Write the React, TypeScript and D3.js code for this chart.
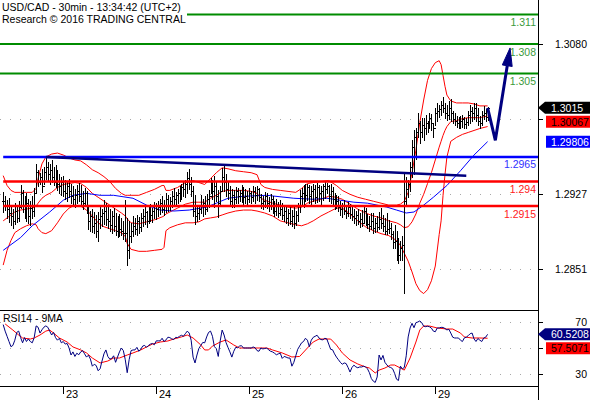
import React from "react";
import * as d3 from "d3";

// ---------------- data ----------------
const titleLine = "USD/CAD - 30min - 13:34:42 (UTC+2)";
const creditLine = "Research \u00a9 2016 TRADING CENTRAL";
const rsiTitle = "RSI14 - 9MA";

const dayLabels = ["23", "24", "25", "26", "29"];
const dayStartBar = [31, 79, 127, 175, 223];

const priceTicks = [1.2851, 1.2927, 1.3004, 1.308];
const priceTickLabels = ["1.2851", "1.2927", "", "1.3080"];
const rsiTicks = [30, 50, 70];
const rsiTickLabels = ["30", "", "70"];

const levelValues = [1.311, 1.308, 1.305, 1.2965, 1.294, 1.2915];
const levelLabels = ["1.311", "1.308", "1.305", "1.2965", "1.294", "1.2915"];
const levelKinds = ["target", "target", "target", "pivot", "support", "support"];

const highs = [
  1.2929, 1.2925, 1.2921, 1.2923, 1.2916, 1.2912, 1.2918, 1.2915, 1.292, 1.2936,
  1.2931, 1.2925, 1.2928, 1.2922, 1.292, 1.2925, 1.2933, 1.2958, 1.2952, 1.2949,
  1.2953, 1.2955, 1.2965, 1.296, 1.2958, 1.2962, 1.2955, 1.2957, 1.2952, 1.2948,
  1.2945, 1.2946, 1.2942, 1.294, 1.2943, 1.2938, 1.2935, 1.2932, 1.2936, 1.2939,
  1.2937, 1.293, 1.2933, 1.293, 1.2914, 1.291, 1.2912, 1.2909, 1.2906, 1.2909,
  1.2914, 1.2912, 1.2921, 1.2918, 1.2914, 1.2912, 1.291, 1.2913, 1.2908, 1.2905,
  1.2907, 1.2903, 1.29, 1.2921, 1.2903, 1.29, 1.2898, 1.2905, 1.2903, 1.2906,
  1.2904, 1.2908, 1.2912, 1.2914, 1.291, 1.2915, 1.2917, 1.2913, 1.2919, 1.2918,
  1.292, 1.2922, 1.2925, 1.2921, 1.2928, 1.2926, 1.2924, 1.293, 1.2933, 1.2929,
  1.2932, 1.2935, 1.2938, 1.294, 1.2942, 1.295, 1.2953, 1.2945, 1.2935, 1.2926,
  1.2914, 1.2916, 1.2926, 1.2922, 1.2925, 1.2927, 1.2931, 1.2944, 1.2942, 1.2946,
  1.294, 1.2931, 1.2935, 1.2954, 1.2957, 1.2948, 1.294, 1.2935, 1.2932, 1.2931,
  1.2934, 1.2933, 1.2931, 1.2936, 1.2934, 1.2932, 1.293, 1.2933, 1.293, 1.2935,
  1.2934, 1.2935, 1.2933, 1.2927, 1.2925, 1.2929, 1.2928, 1.2924, 1.2927, 1.2925,
  1.292, 1.2922, 1.2919, 1.2921, 1.2918, 1.2916, 1.2915, 1.2912, 1.2914, 1.2911,
  1.2914, 1.291, 1.2918, 1.2931, 1.2933, 1.2936, 1.2938, 1.2938, 1.2937, 1.2935,
  1.2938, 1.2936, 1.2939, 1.2937, 1.2935, 1.2938, 1.2941, 1.2939, 1.2937, 1.2938,
  1.2934, 1.2928, 1.2926, 1.2925, 1.292, 1.2918, 1.2921, 1.2916, 1.2919, 1.2917,
  1.2914, 1.2912, 1.291, 1.2912, 1.2908, 1.2911, 1.2916, 1.2913, 1.2907, 1.2905,
  1.2908, 1.2908, 1.2903, 1.2905, 1.2909, 1.2913, 1.2906, 1.2903, 1.2908, 1.2901,
  1.2898, 1.289, 1.2896, 1.289, 1.2883, 1.288, 1.2885, 1.2949, 1.2945, 1.2942,
  1.296, 1.2982, 1.2992, 1.2994, 1.301, 1.3002, 1.3005, 1.3005, 1.3008, 1.3002,
  1.301, 1.3009, 1.3, 1.3015, 1.302, 1.3018, 1.3022, 1.3026, 1.302, 1.3018,
  1.3022, 1.3024, 1.3012, 1.301, 1.3007, 1.3006, 1.3007, 1.3008, 1.3006, 1.3005,
  1.3012, 1.3018, 1.3016, 1.302, 1.302, 1.3015, 1.3007, 1.3012, 1.3017, 1.3014,
  1.3016,
];
const lows = [
  1.2909, 1.2911, 1.2903, 1.2899, 1.2896, 1.2893, 1.2897, 1.2899, 1.29, 1.2913,
  1.2909, 1.2903, 1.29, 1.2898, 1.2896, 1.2903, 1.2905, 1.2929, 1.2935, 1.2938,
  1.2929, 1.2938, 1.2943, 1.2942, 1.2938, 1.294, 1.2936, 1.2934, 1.2931, 1.2928,
  1.2926, 1.2925, 1.2922, 1.292, 1.2924, 1.2918, 1.2915, 1.2914, 1.2918, 1.292,
  1.2916, 1.2912, 1.2915, 1.2908, 1.2892, 1.289, 1.2889, 1.2888, 1.2884, 1.288,
  1.2893, 1.2895, 1.2897, 1.2896, 1.2893, 1.289, 1.2888, 1.289, 1.2886, 1.2884,
  1.2885, 1.2886, 1.2882, 1.288, 1.2855, 1.2862, 1.2878, 1.2885, 1.2887, 1.2886,
  1.2888, 1.289, 1.2895, 1.2897, 1.2894, 1.2898, 1.29, 1.2899, 1.2903, 1.2902,
  1.2905, 1.2907, 1.2909, 1.2906, 1.2909, 1.291, 1.2911, 1.2914, 1.2916, 1.2915,
  1.2918, 1.292, 1.2922, 1.2925, 1.2924, 1.2928, 1.2932, 1.2925, 1.2905, 1.2897,
  1.29, 1.2902, 1.2908, 1.2905, 1.2907, 1.291, 1.2914, 1.2928, 1.2922, 1.2914,
  1.292, 1.2904, 1.2915, 1.2931, 1.293, 1.2925, 1.2922, 1.2915, 1.2914, 1.2914,
  1.2918, 1.2918, 1.292, 1.2919, 1.2917, 1.2918, 1.2917, 1.2919, 1.2918, 1.292,
  1.2918, 1.2921, 1.292, 1.2913, 1.2912, 1.2914, 1.2913, 1.291, 1.2912, 1.2908,
  1.2905, 1.2906, 1.2904, 1.2906, 1.2902, 1.29, 1.2898, 1.2896, 1.2897, 1.2895,
  1.2893, 1.2896, 1.29, 1.2909, 1.2915, 1.2914, 1.292, 1.2921, 1.2918, 1.2916,
  1.292, 1.2918, 1.2919, 1.292, 1.2917, 1.2921, 1.2923, 1.2928, 1.292, 1.2918,
  1.2916, 1.2912, 1.2913, 1.291, 1.2906, 1.2904, 1.2907, 1.2903, 1.2905, 1.2903,
  1.2901, 1.2898, 1.2896, 1.2897, 1.2894, 1.2895, 1.2898, 1.2896, 1.2893, 1.289,
  1.2892, 1.2888, 1.2889, 1.289, 1.2892, 1.2893, 1.289, 1.2887, 1.2887, 1.2888,
  1.2882, 1.2872, 1.2872, 1.286, 1.2857, 1.286, 1.286, 1.2827, 1.2915, 1.2924,
  1.293, 1.2945, 1.2948, 1.2963, 1.2985, 1.2979, 1.2985, 1.2982, 1.2988, 1.299,
  1.2995, 1.2992, 1.2985, 1.2998, 1.3002, 1.3006, 1.3008, 1.3011, 1.3005, 1.3003,
  1.3004, 1.3002, 1.3, 1.2998, 1.2996, 1.2994, 1.2994, 1.2996, 1.2995, 1.2995,
  1.2998, 1.3, 1.3002, 1.3004, 1.3002, 1.2998, 1.2994, 1.2998, 1.3004, 1.3002,
  1.3003,
];
const closes = [
  1.292, 1.2915, 1.2912, 1.2908, 1.2905, 1.29, 1.291, 1.2903, 1.2914, 1.2928,
  1.2915, 1.291, 1.2918, 1.2905, 1.2913, 1.291, 1.2928, 1.295, 1.294, 1.2945,
  1.2935, 1.295, 1.2955, 1.2948, 1.2952, 1.2945, 1.294, 1.295, 1.2938, 1.2935,
  1.294, 1.293, 1.2928, 1.2935, 1.293, 1.2925, 1.2922, 1.2926, 1.293, 1.2925,
  1.292, 1.2918, 1.2928, 1.2912, 1.29, 1.2905, 1.2895, 1.2898, 1.289, 1.2902,
  1.2905, 1.2908, 1.291, 1.2902, 1.29, 1.2896, 1.2905, 1.2895, 1.289, 1.2898,
  1.2892, 1.289, 1.2888, 1.2888, 1.287, 1.2885, 1.289, 1.2895, 1.2892, 1.29,
  1.2894, 1.2903, 1.2905, 1.2909, 1.29, 1.291, 1.2906, 1.291, 1.2915, 1.2912,
  1.2914, 1.2918, 1.2912, 1.2916, 1.2922, 1.2915, 1.292, 1.2925, 1.2922, 1.2926,
  1.2928, 1.293, 1.2934, 1.2932, 1.2938, 1.2944, 1.2938, 1.293, 1.291, 1.2905,
  1.2908, 1.2912, 1.2915, 1.2918, 1.2912, 1.2922, 1.2925, 1.294, 1.293, 1.2935,
  1.2925, 1.2918, 1.293, 1.2945, 1.294, 1.2932, 1.2928, 1.292, 1.2926, 1.2922,
  1.293, 1.2925, 1.2928, 1.2932, 1.2924, 1.2925, 1.2922, 1.2928, 1.2924, 1.293,
  1.2926, 1.2932, 1.2924, 1.2918, 1.292, 1.2925, 1.2918, 1.2915, 1.2922, 1.2912,
  1.291, 1.2916, 1.2908, 1.2912, 1.2906, 1.291, 1.2903, 1.2908, 1.29, 1.2905,
  1.2898, 1.2906, 1.2915, 1.2925, 1.2928, 1.293, 1.2926, 1.2934, 1.2925, 1.293,
  1.2932, 1.2924, 1.2934, 1.2928, 1.293, 1.2935, 1.2932, 1.2935, 1.2925, 1.293,
  1.2922, 1.2918, 1.292, 1.2914, 1.2912, 1.2915, 1.291, 1.2908, 1.2914, 1.2907,
  1.2905, 1.2903, 1.2906, 1.29, 1.2902, 1.2898, 1.291, 1.29, 1.2897, 1.2895,
  1.29, 1.2893, 1.2898, 1.2894, 1.2902, 1.2898, 1.2895, 1.289, 1.2892, 1.2893,
  1.2887, 1.2878, 1.288, 1.287, 1.2865, 1.2872, 1.2875, 1.292, 1.2932, 1.2938,
  1.2955, 1.2975, 1.2985, 1.299, 1.3, 1.299, 1.2998, 1.2995, 1.3, 1.2996,
  1.3005, 1.3, 1.2995, 1.301, 1.3012, 1.3014, 1.3018, 1.3015, 1.301, 1.3008,
  1.3015, 1.301, 1.3004, 1.3002, 1.3, 1.3, 1.3002, 1.3004, 1.2999, 1.3001,
  1.3008, 1.3012, 1.301, 1.3015, 1.3008, 1.3002, 1.3, 1.3008, 1.301, 1.3006,
  1.3015,
];

// Bollinger bands (at these bars)
const bbBars = [
  0, 2, 4, 6, 9, 12, 15, 17, 18, 20,
  22, 25, 28, 31, 34, 37, 40, 43, 46, 49,
  52, 55, 58, 61, 63, 64, 66, 70, 74, 78,
  82, 83, 84, 86, 90, 94, 98, 101, 104, 107,
  110, 113, 116, 120, 124, 128, 131, 133, 135, 139,
  143, 147, 151, 154, 157, 160, 164, 168, 172, 175,
  179, 183, 187, 191, 195, 199, 203, 205, 207, 209,
  211, 213, 215, 217, 219, 221, 223, 225, 226, 227,
  228, 229, 231, 234, 237, 240, 243, 246, 250,
];
const bbUpper = [
  1.2946, 1.2936, 1.2931, 1.2929, 1.2929, 1.2929, 1.2929, 1.2933, 1.2943, 1.2958,
  1.2965, 1.2968, 1.2969, 1.2967, 1.2964, 1.2962, 1.2961, 1.2957, 1.2952, 1.2949,
  1.2945, 1.294, 1.2933, 1.2928, 1.2926, 1.2926, 1.2926, 1.2926, 1.2929, 1.2932,
  1.2936, 1.2936, 1.2931, 1.2931, 1.2934, 1.2939, 1.2941, 1.2939, 1.2937, 1.2943,
  1.2949, 1.2954, 1.2953, 1.2951, 1.295, 1.2949, 1.2947, 1.2937, 1.2934, 1.2932,
  1.2931, 1.293, 1.2929, 1.2933, 1.2938, 1.2939, 1.294, 1.2941, 1.2936, 1.2931,
  1.2927, 1.2924, 1.2922, 1.292, 1.2918, 1.2916, 1.2916, 1.2917, 1.292, 1.2929,
  1.2949, 1.2972, 1.3, 1.3023, 1.3043, 1.3055, 1.3061, 1.3063, 1.3059, 1.3048,
  1.3037, 1.3028, 1.3022, 1.302, 1.302, 1.302, 1.3019, 1.3017, 1.3017,
];
const bbMiddle = [
  1.29, 1.2903, 1.2906, 1.2909, 1.2911, 1.2912, 1.2913, 1.2915, 1.2918, 1.2923,
  1.2926, 1.2929, 1.2934, 1.2937, 1.2938, 1.2939, 1.2938, 1.2934, 1.2928, 1.2924,
  1.292, 1.2916, 1.2912, 1.2908, 1.2905, 1.2902, 1.2898, 1.2897, 1.2899, 1.2901,
  1.2904, 1.2905, 1.2907, 1.2909, 1.2913, 1.2917, 1.2919, 1.2919, 1.2919, 1.2923,
  1.2926, 1.293, 1.2931, 1.2931, 1.2931, 1.293, 1.2928, 1.2923, 1.2921, 1.2918,
  1.2916, 1.2914, 1.2913, 1.2914, 1.2918, 1.292, 1.2922, 1.2925, 1.2924, 1.2922,
  1.2917, 1.2912, 1.2908, 1.2905, 1.2903, 1.29, 1.2898, 1.2896, 1.2893, 1.2894,
  1.2899, 1.2907, 1.2918, 1.2927, 1.2938, 1.2949, 1.2962, 1.2975, 1.2981, 1.2987,
  1.2992, 1.2996, 1.3001, 1.3002, 1.3004, 1.3005, 1.3005, 1.3005, 1.30067,
];
const bbLower = [
  1.2855, 1.287, 1.288, 1.2888, 1.2892, 1.2895, 1.2897, 1.2896, 1.2892, 1.2888,
  1.2887, 1.289, 1.2898, 1.2907, 1.2913, 1.2916, 1.2915, 1.2911, 1.2905, 1.2898,
  1.2894, 1.2892, 1.289, 1.2888, 1.2884, 1.2877, 1.2871, 1.2869, 1.2869, 1.287,
  1.2871, 1.2873, 1.289, 1.2893, 1.2896, 1.2898, 1.2898, 1.2899, 1.2902, 1.2903,
  1.2904, 1.2906, 1.2908, 1.291, 1.2911, 1.2911, 1.291, 1.2909, 1.2908, 1.2905,
  1.29, 1.2898, 1.2896, 1.2895, 1.2897, 1.29, 1.2905, 1.2909, 1.2913, 1.2913,
  1.2907, 1.29, 1.2894, 1.289, 1.2887, 1.2885, 1.288, 1.2875, 1.2867, 1.2859,
  1.2848, 1.2836, 1.2829, 1.2826, 1.283, 1.2839, 1.2854, 1.2886, 1.29, 1.2926,
  1.2947, 1.2965, 1.2981, 1.2985, 1.2988, 1.299, 1.2992, 1.2994, 1.2996,
];

// long moving average (blue)
const maBars = [0, 9, 15, 24, 31, 36, 43, 50, 57, 67, 74, 81, 88, 96, 102, 105, 110, 116, 124, 136, 150, 160, 167, 174, 181, 188, 198, 203, 208, 212, 217, 222, 229, 236, 243, 250];
const maValues = [
  1.287, 1.2883, 1.2895, 1.2909, 1.2921, 1.2926, 1.2928, 1.2926, 1.2926, 1.2923,
  1.2916, 1.2911, 1.291, 1.2911, 1.2913, 1.2914, 1.2918, 1.2923, 1.2925, 1.2926,
  1.2923, 1.2922, 1.2923, 1.2921, 1.2919, 1.2918, 1.2914, 1.2911, 1.2908, 1.2909,
  1.2916, 1.2924, 1.2936, 1.2951, 1.2967, 1.29806,
];

// hand-drawn annotations
const trendBars = [22, 239];
const trendValues = [1.2965, 1.2946];
const forecastBars = [250, 254, 261.6];
const forecastValues = [1.3015, 1.2982, 1.3076];

// RSI(14), one value per bar
const rsiValues = [
  68, 63, 59, 55, 51, 52, 56, 62, 63, 58,
  54, 58, 55, 57, 55, 54, 58, 67, 66, 61.5,
  64, 66, 67, 66, 63, 60, 62, 58, 56, 57.5,
  54, 55, 53, 53.5, 50, 44.6, 47, 43.5, 46, 44.8,
  47, 48, 45.5, 43, 44.5, 41.5, 36, 37.5, 36.5, 32.5,
  34, 40, 45.5, 48.5, 43.5, 41.5, 42, 44, 39, 43,
  47, 50, 48, 41, 31, 41, 48, 48.5, 48.5, 50.5,
  47.5, 49, 51.5, 52, 50.5, 52, 53, 53.5, 52.5, 55.5,
  55.5, 55.5, 57.5, 55, 56.2, 58.3, 58, 57, 56.5, 58.2,
  58, 59, 59.8, 59, 61, 63, 61.5, 56, 43, 38.5,
  44.6, 49.7, 52, 54.3, 54, 58.5, 62, 63, 59, 51,
  49.5, 43.5, 55.5, 63.8, 60, 54.2, 50.5, 47, 43, 47.5,
  50.5, 50.2, 51.5, 51.8, 50, 50, 50, 50, 50, 50.8,
  50.2, 48, 47.5, 50, 49.3, 49.6, 50, 48.5, 47.5, 47,
  46, 44.8, 45.5, 46, 42, 43.5, 43, 42.3, 42.3, 36,
  39, 44, 49, 51.5, 54, 55, 57.5, 56, 51, 56,
  58.2, 59, 59.8, 57.7, 56.5, 56.3, 57.5, 57, 53, 49,
  48.6, 45.5, 43, 41, 39, 37.5, 38.5, 38, 35, 31.5,
  35, 36.8, 35.5, 34.8, 35.4, 35.4, 36, 35.5, 34, 31,
  26.5, 24.5, 23.5, 27.7, 44.6, 40.8, 44.3, 39, 37, 35.5,
  35, 34, 30.5, 26, 25, 36, 34, 35, 44, 58.5,
  65.4, 69, 65.6, 69.5, 70, 70.8, 69.5, 66.8, 66.4, 66.8,
  66.3, 65.3, 63, 62.5, 65.4, 65.4, 65.9, 65.8, 65, 63.9,
  64.4, 61.5, 58.3, 57.7, 57.7, 57.7, 56, 55, 57.8, 58.3,
  59.5, 61, 61.5, 57, 55, 57.3, 56, 55, 57.7, 58.3,
  60.5208,
];
// 9-period average of RSI (read at these bars)
const rsiMaBars = [1, 5, 8, 10, 14, 16, 19, 22, 24, 26, 29, 33, 36, 40, 43, 46, 50, 54, 57, 60, 64, 67, 71, 74, 77, 81, 85, 88, 92, 95, 98, 102, 104, 106, 108, 112, 115, 119, 122, 129, 136, 139, 144, 149, 153, 157, 160, 163, 169, 172, 175, 179, 183, 187, 189, 192, 194, 197, 200, 202, 205, 207, 210, 213, 215, 217, 220, 224, 229, 232, 236, 238, 242, 246, 250];
const rsiMaValues = [
  68.5, 63.8, 60, 57.7, 56.9, 57.7, 60, 63, 63.8, 61.5,
  57.7, 54.6, 50.8, 48.5, 46.2, 42.3, 38.5, 40, 42.3, 42.3,
  44.6, 46.2, 48.5, 50.8, 53, 54.6, 55.4, 56.9, 58.5, 60,
  57.7, 52.3, 48.5, 48.5, 51.5, 54.6, 56.2, 52.3, 50, 50,
  50, 48.5, 46.2, 43.1, 43.5, 50, 54.6, 56.9, 56.9, 52.3,
  46.2, 40.8, 37.7, 35.4, 34.6, 30.8, 33, 34.6, 36.9, 36.9,
  34.6, 33, 42.3, 54.6, 63.8, 66.9, 66.9, 65.4, 64.6, 64.6,
  61.5, 58.5, 57.7, 57.7, 57.5071,
];

// ---------------- styles / layout ----------------
const FONT = "'Liberation Sans', Arial, Helvetica, sans-serif";
const W = 590;
const H = 400;
const AXIS_X = 538;
const RSI_TOP = 310;
const RSI_BOTTOM = 386;
const LEVEL_STYLE: Record<string, { stroke: string; width: number; text: string }> = {
  target: { stroke: "#008c00", width: 2, text: "#3a9a3a" },
  pivot: { stroke: "#0000ff", width: 2.5, text: "#3030ff" },
  support: { stroke: "#ff0000", width: 2.5, text: "#ff2020" },
};
const NAVY = "#000080";

const x = d3.scaleLinear().domain([0, 250]).range([3.2, 487.6]);
const y = d3.scaleLinear().domain([1.2851, 1.308]).range([269, 44]);
const yr = d3.scaleLinear().domain([30, 70]).range([374, 322]);

function seriesPath(bars: number[], vals: number[], sc: (v: number) => number) {
  return (
    d3
      .line<number>()
      .x((_, k) => x(bars[k]))
      .y((v) => sc(v))(vals) || ""
  );
}

function layoutTags(tags: { v: number; sc: (v: number) => number }[], gap: number) {
  const out: number[] = [];
  let prev = -Infinity;
  tags.forEach((t) => {
    const c = Math.max(t.sc(t.v), prev + gap);
    out.push(c);
    prev = c;
  });
  return out;
}

export default function App() {
  // OHLC bars
  const bp = d3.path();
  closes.forEach((c, i) => {
    const px = Math.round(x(i)) + 0.5;
    const o = i > 0 ? closes[i - 1] : c;
    bp.moveTo(px, Math.round(y(highs[i])));
    bp.lineTo(px, Math.round(y(lows[i])) + 1);
    const yo = Math.round(y(o)) + 0.5;
    const yc = Math.round(y(c)) + 0.5;
    bp.moveTo(px - 1.5, yo);
    bp.lineTo(px, yo);
    bp.moveTo(px, yc);
    bp.lineTo(px + 1.5, yc);
  });

  const rsiBars = rsiValues.map((_, i) => i);

  // forecast arrow
  const fp = forecastBars.map((b, k) => [x(b), y(forecastValues[k])] as [number, number]);
  const tip = fp[fp.length - 1];
  const prevPt = fp[fp.length - 2];
  const dx = tip[0] - prevPt[0];
  const dy = tip[1] - prevPt[1];
  const len = Math.hypot(dx, dy);
  const ux = dx / len;
  const uy = dy / len;
  const headLen = 18;
  const headHalf = 5;
  const base: [number, number] = [tip[0] - ux * headLen, tip[1] - uy * headLen];
  const shaft = [...fp.slice(0, -1), base];
  const headPts = [
    tip,
    [base[0] - uy * headHalf, base[1] + ux * headHalf],
    [base[0] + uy * headHalf, base[1] - ux * headHalf],
  ];

  const lastIdx = closes.length - 1;
  const priceTagDefs = [
    { v: closes[lastIdx], text: String(closes[lastIdx]), fill: "#000000", color: "#ffffff", pointer: true },
    { v: bbMiddle[bbMiddle.length - 1], text: String(bbMiddle[bbMiddle.length - 1]), fill: "#ff0000", color: "#000000", pointer: false },
    { v: maValues[maValues.length - 1], text: String(maValues[maValues.length - 1]), fill: "#0000ff", color: "#ffffff", pointer: false },
  ].sort((a, b) => y(a.v) - y(b.v));
  const priceTagY = layoutTags(priceTagDefs.map((t) => ({ v: t.v, sc: y })), 14);

  const rsiTagDefs = [
    { v: rsiValues[rsiValues.length - 1], text: String(rsiValues[rsiValues.length - 1]), fill: NAVY, color: "#ffffff", pointer: true },
    { v: rsiMaValues[rsiMaValues.length - 1], text: String(rsiMaValues[rsiMaValues.length - 1]), fill: "#ff0000", color: "#000000", pointer: false },
  ].sort((a, b) => yr(a.v) - yr(b.v));
  const rsiTagY = layoutTags(rsiTagDefs.map((t) => ({ v: t.v, sc: yr })), 14);

  const tag = (t: any, cy: number, key: string) => {
    const h = 12;
    const shape = t.pointer
      ? `M${AXIS_X},${cy} L${AXIS_X + 7},${cy - h / 2} L${W},${cy - h / 2} L${W},${cy + h / 2} L${AXIS_X + 7},${cy + h / 2} Z`
      : `M${AXIS_X + 8},${cy - h / 2} L${W},${cy - h / 2} L${W},${cy + h / 2} L${AXIS_X + 8},${cy + h / 2} Z`;
    return (
      <g key={key}>
        <path d={shape} fill={t.fill} />
        <text x={551} y={cy + 4} fill={t.color} fontSize={10.5}>
          {t.text}
        </text>
      </g>
    );
  };

  return (
    <svg
      width={W}
      height={H}
      style={{ position: "absolute", left: 0, top: 0, background: "#ffffff" }}
      fontFamily={FONT}
    >
      <rect x={0} y={0} width={W} height={H} fill="#ffffff" />

      {/* grid */}
      {priceTicks.map((t) => (
        <line key={"g" + t} x1={0} x2={AXIS_X - 1} y1={Math.round(y(t)) + 0.5} y2={Math.round(y(t)) + 0.5} stroke="#a8a8a8" strokeDasharray="1,9" />
      ))}
      {rsiTicks.map((t) => (
        <line key={"rg" + t} x1={0} x2={AXIS_X - 1} y1={Math.round(yr(t)) + 0.5} y2={Math.round(yr(t)) + 0.5} stroke="#a8a8a8" strokeDasharray="1,9" />
      ))}

      {/* bollinger bands + long MA */}
      <path d={seriesPath(bbBars, bbUpper, y)} fill="none" stroke="#ff0000" strokeWidth={1} />
      <path d={seriesPath(bbBars, bbMiddle, y)} fill="none" stroke="#ff0000" strokeWidth={1} />
      <path d={seriesPath(bbBars, bbLower, y)} fill="none" stroke="#ff0000" strokeWidth={1} />
      <path d={seriesPath(maBars, maValues, y)} fill="none" stroke="#0000ff" strokeWidth={1} />

      {/* bars */}
      <path d={bp.toString()} fill="none" stroke="#000000" strokeWidth={1} shapeRendering="crispEdges" />

      {/* levels */}
      {levelValues.map((v, k) => {
        const st = LEVEL_STYLE[levelKinds[k]];
        const ly = y(v);
        const x0 = levelKinds[k] === "target" ? 0 : x(0);
        return (
          <g key={"lv" + k}>
            <line x1={x0} x2={AXIS_X} y1={ly} y2={ly} stroke={st.stroke} strokeWidth={st.width} />
            <text x={536} y={ly + 11.5} textAnchor="end" fill={st.text} fontSize={10.5}>
              {levelLabels[k]}
            </text>
          </g>
        );
      })}

      {/* trend line */}
      <path d={seriesPath(trendBars, trendValues, y)} fill="none" stroke={NAVY} strokeWidth={2.5} />

      {/* forecast arrow */}
      <path d={d3.line()(shaft as [number, number][]) || ""} fill="none" stroke={NAVY} strokeWidth={3} strokeLinejoin="miter" />
      <path d={d3.line()(headPts as [number, number][]) + "Z"} fill={NAVY} stroke={NAVY} strokeWidth={1} />

      {/* header */}
      <rect x={0} y={0} width={187} height={27} fill="#ffffff" />
      <text x={2} y={10.5} fontSize={10.5} fill="#000000">
        {titleLine}
      </text>
      <text x={2} y={22.5} fontSize={10.5} fill="#000000">
        {creditLine}
      </text>

      {/* RSI panel */}
      <line x1={0} x2={AXIS_X} y1={RSI_TOP + 0.5} y2={RSI_TOP + 0.5} stroke="#000" />
      <line x1={0} x2={AXIS_X} y1={RSI_BOTTOM + 0.5} y2={RSI_BOTTOM + 0.5} stroke="#000" />
      <path d={seriesPath(rsiMaBars, rsiMaValues, yr)} fill="none" stroke="#ff0000" strokeWidth={1} />
      <path d={seriesPath(rsiBars, rsiValues, yr)} fill="none" stroke={NAVY} strokeWidth={1} />
      <text x={3} y={322} fontSize={10.5} fill="#000">
        {rsiTitle}
      </text>

      {/* right axis */}
      <line x1={AXIS_X + 0.5} x2={AXIS_X + 0.5} y1={0} y2={H} stroke="#000" />
      {priceTicks.map((t, k) => (
        <g key={"pt" + k}>
          <line x1={AXIS_X} x2={AXIS_X + 5} y1={Math.round(y(t)) + 0.5} y2={Math.round(y(t)) + 0.5} stroke="#000" />
          <text x={587} y={y(t) + 4} textAnchor="end" fontSize={10.5} fill="#000">
            {priceTickLabels[k]}
          </text>
        </g>
      ))}
      {rsiTicks.map((t, k) => (
        <g key={"rt" + k}>
          <line x1={AXIS_X} x2={AXIS_X + 5} y1={Math.round(yr(t)) + 0.5} y2={Math.round(yr(t)) + 0.5} stroke="#000" />
          <text x={587} y={yr(t) + 4} textAnchor="end" fontSize={10.5} fill="#000">
            {rsiTickLabels[k]}
          </text>
        </g>
      ))}
      {priceTagDefs.map((t, k) => tag(t, priceTagY[k], "ptag" + k))}
      {rsiTagDefs.map((t, k) => tag(t, rsiTagY[k], "rtag" + k))}

      {/* date axis */}
      {dayStartBar.map((b, k) => (
        <g key={"d" + k}>
          <line x1={Math.round(x(b)) + 0.5} x2={Math.round(x(b)) + 0.5} y1={RSI_BOTTOM} y2={RSI_BOTTOM + 8} stroke="#000" />
          <text x={Math.round(x(b)) + 3} y={398} fontSize={11} fill="#000">
            {dayLabels[k]}
          </text>
        </g>
      ))}
    </svg>
  );
}
